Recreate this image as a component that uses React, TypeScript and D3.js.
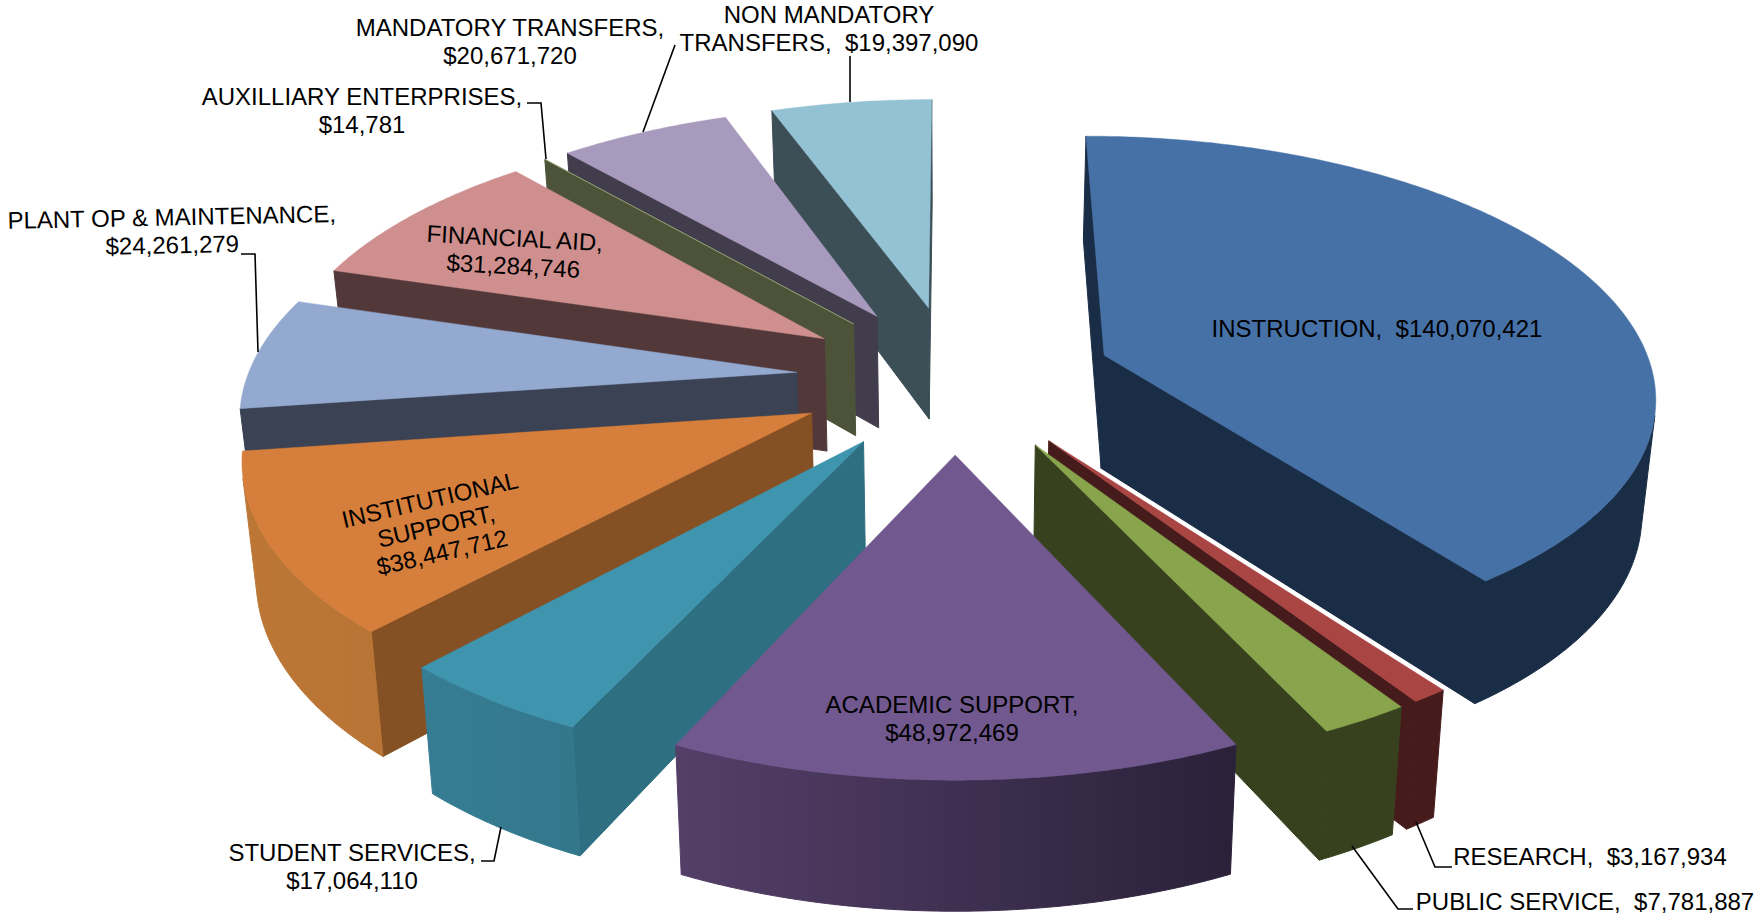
import React from "react";
import * as d3 from "d3";

const categories = ["INSTRUCTION","RESEARCH","PUBLIC SERVICE","ACADEMIC SUPPORT","STUDENT SERVICES","INSTITUTIONAL SUPPORT","PLANT OP & MAINTENANCE","FINANCIAL AID","AUXILLIARY ENTERPRISES","MANDATORY TRANSFERS","NON MANDATORY TRANSFERS"];
const amounts = [140070421,3167934,7781887,48972469,17064110,38447712,24261279,31284746,14781,20671720,19397090];
const topColors = ["#4671A7","#A94543","#88A44D","#71588F","#4095AE","#D67F3C","#93A9CF","#CF8F8E","#B9CD96","#A89ABD","#92C2D4"];
const sideColors = ["#1A2D46","#451C1B","#37411E","#2A2139","#2F6F82","#845024","#3A4254","#533839","#4D5339","#423D4D","#3C4E56"];
const outerFrom = ["#1A2D46","#451C1B","#37411E","#543F69","#367D93","#BC7736","#3A4254","#533839","#4D5339","#423D4D","#3C4E56"];
const outerTo = ["#1A2D46","#451C1B","#37411E","#2A2139","#2E6C7E","#AE6D32","#3A4254","#533839","#4D5339","#423D4D","#3C4E56"];

const W = 1754, H = 914;
const cx = 955, cy = 378, S = 550, A = 255.7, D = 114, persp = 0.14, shrink = 0.02, explode = 0.289;

type P = [number, number];
const project = (X: number, Y: number, z: number): P => {
  const w = (1 / (1 - persp * Y)) * (1 - shrink * z);
  return [cx + X * S * w, cy + A * Y * w + D * z * (1 / (1 - persp * Y))];
};
// d3.polygonArea is positive for visually counter-clockwise rings in y-down coordinates
const area = (q: P[]) => -d3.polygonArea(q);
const line = d3.line<P>();

const pie = d3.pie<number>().sort(null).value((d) => d).startAngle(0).endAngle(2 * Math.PI);
const arcs = pie(amounts);

type Face = { d: string; fill: string };
const slices = arcs.map((a, i) => {
  const mid = (a.startAngle + a.endAngle) / 2;
  const ex = explode * Math.sin(mid), ey = -explode * Math.cos(mid);
  const rim = (t: number, z: number) => project(ex + Math.sin(t), ey - Math.cos(t), z);
  const n = Math.max(2, Math.ceil((a.endAngle - a.startAngle) / 0.01));
  const angles = d3.range(n + 1).map((k) => a.startAngle + ((a.endAngle - a.startAngle) * k) / n);
  const apexT = project(ex, ey, 0), apexB = project(ex, ey, 1);
  const faces: Face[] = [];
  const startQ: P[] = [apexT, rim(a.startAngle, 0), rim(a.startAngle, 1), apexB];
  const endQ: P[] = [apexT, rim(a.endAngle, 0), rim(a.endAngle, 1), apexB];
  if (area(startQ) < 0) faces.push({ d: line(startQ)! + "Z", fill: sideColors[i] });
  if (area(endQ) > 0) faces.push({ d: line(endQ)! + "Z", fill: sideColors[i] });
  // outer wall: contiguous front-facing runs
  let run: number[] = [];
  const flush = () => {
    if (run.length > 1) {
      const topPts = run.map((t) => rim(t, 0));
      const botPts = run.map((t) => rim(t, 1)).reverse();
      faces.push({ d: line([...topPts, ...botPts])! + "Z", fill: `url(#outer${i})` });
    }
    run = [];
  };
  for (let k = 0; k < n; k++) {
    const q: P[] = [rim(angles[k], 0), rim(angles[k + 1], 0), rim(angles[k + 1], 1), rim(angles[k], 1)];
    if (area(q) < 0) {
      if (!run.length) run.push(angles[k]);
      run.push(angles[k + 1]);
    } else flush();
  }
  flush();
  const top: P[] = [apexT, ...angles.map((t) => rim(t, 0))];
  const xs = [...top.map((p) => p[0])];
  return { i, ey, faces, top: line(top)! + "Z", x0: d3.min(xs)!, x1: d3.max(xs)! };
});
const drawOrder = d3.sort(slices, (s) => s.ey);

type Lab = { lines: string[]; x: number; y: number; rot?: number; lh?: number };
const labels: Lab[] = [
  { lines: ["INSTRUCTION,  $140,070,421"], x: 1377, y: 329 },
  { lines: ["RESEARCH,  $3,167,934"], x: 1590, y: 857 },
  { lines: ["PUBLIC SERVICE,  $7,781,887"], x: 1585, y: 902 },
  { lines: ["ACADEMIC SUPPORT,", "$48,972,469"], x: 952, y: 719 },
  { lines: ["STUDENT SERVICES,", "$17,064,110"], x: 352, y: 867 },
  { lines: ["INSTITUTIONAL", "SUPPORT,", "$38,447,712"], x: 436, y: 526, rot: -13, lh: 27 },
  { lines: ["PLANT OP & MAINTENANCE,", "$24,261,279"], x: 172, y: 231, rot: -1.2 },
  { lines: ["FINANCIAL AID,", "$31,284,746"], x: 514, y: 252, rot: 3 },
  { lines: ["AUXILLIARY ENTERPRISES,", "$14,781"], x: 362, y: 111 },
  { lines: ["MANDATORY TRANSFERS,", "$20,671,720"], x: 510, y: 42 },
  { lines: ["NON MANDATORY", "TRANSFERS,  $19,397,090"], x: 829, y: 29 },
];
const leaders: P[][] = [
  [[675, 45], [643, 132]],
  [[527, 103], [541, 103], [546, 159]],
  [[241, 254], [255, 254], [258, 352]],
  [[850, 56], [850, 102]],
  [[481, 861], [494, 861], [501, 827]],
  [[1452, 867], [1435, 867], [1416, 822]],
  [[1413, 909], [1398, 909], [1352, 846]],
];

export default function App() {
  return (
    <svg width={W} height={H} viewBox={`0 0 ${W} ${H}`} style={{ position: "absolute", left: 0, top: 0, display: "block" }} fontFamily="'Liberation Sans', Arial, sans-serif">
      <rect width={W} height={H} fill="#fff" />
      <defs>
        {slices.map((s) => (
          <linearGradient key={s.i} id={`outer${s.i}`} gradientUnits="userSpaceOnUse" x1={s.x0} x2={s.x1} y1={0} y2={0}>
            <stop offset="0" stopColor={outerFrom[s.i]} />
            <stop offset="1" stopColor={outerTo[s.i]} />
          </linearGradient>
        ))}
      </defs>
      {drawOrder.map((s) => (
        <g key={categories[s.i]}>
          {s.faces.map((f, k) => (
            <path key={k} d={f.d} fill={f.fill} stroke={f.fill} strokeWidth={1} strokeLinejoin="round" />
          ))}
          <path d={s.top} fill={topColors[s.i]} stroke={topColors[s.i]} strokeWidth={0.4} />
        </g>
      ))}
      {leaders.map((l, i) => (
        <path key={i} d={line(l)!} fill="none" stroke="#000" strokeWidth={1.6} />
      ))}
      {labels.map((l, i) => {
        const lh = l.lh ?? 28;
        return (
          <text key={i} transform={`translate(${l.x},${l.y}) rotate(${l.rot ?? 0})`} textAnchor="middle" fontSize={24} fill="#000" style={{ whiteSpace: "pre" }}>
            {l.lines.map((t, k) => (
              <tspan key={k} x={0} y={(k - (l.lines.length - 1) / 2) * lh} dy="0.35em">{t}</tspan>
            ))}
          </text>
        );
      })}
    </svg>
  );
}
